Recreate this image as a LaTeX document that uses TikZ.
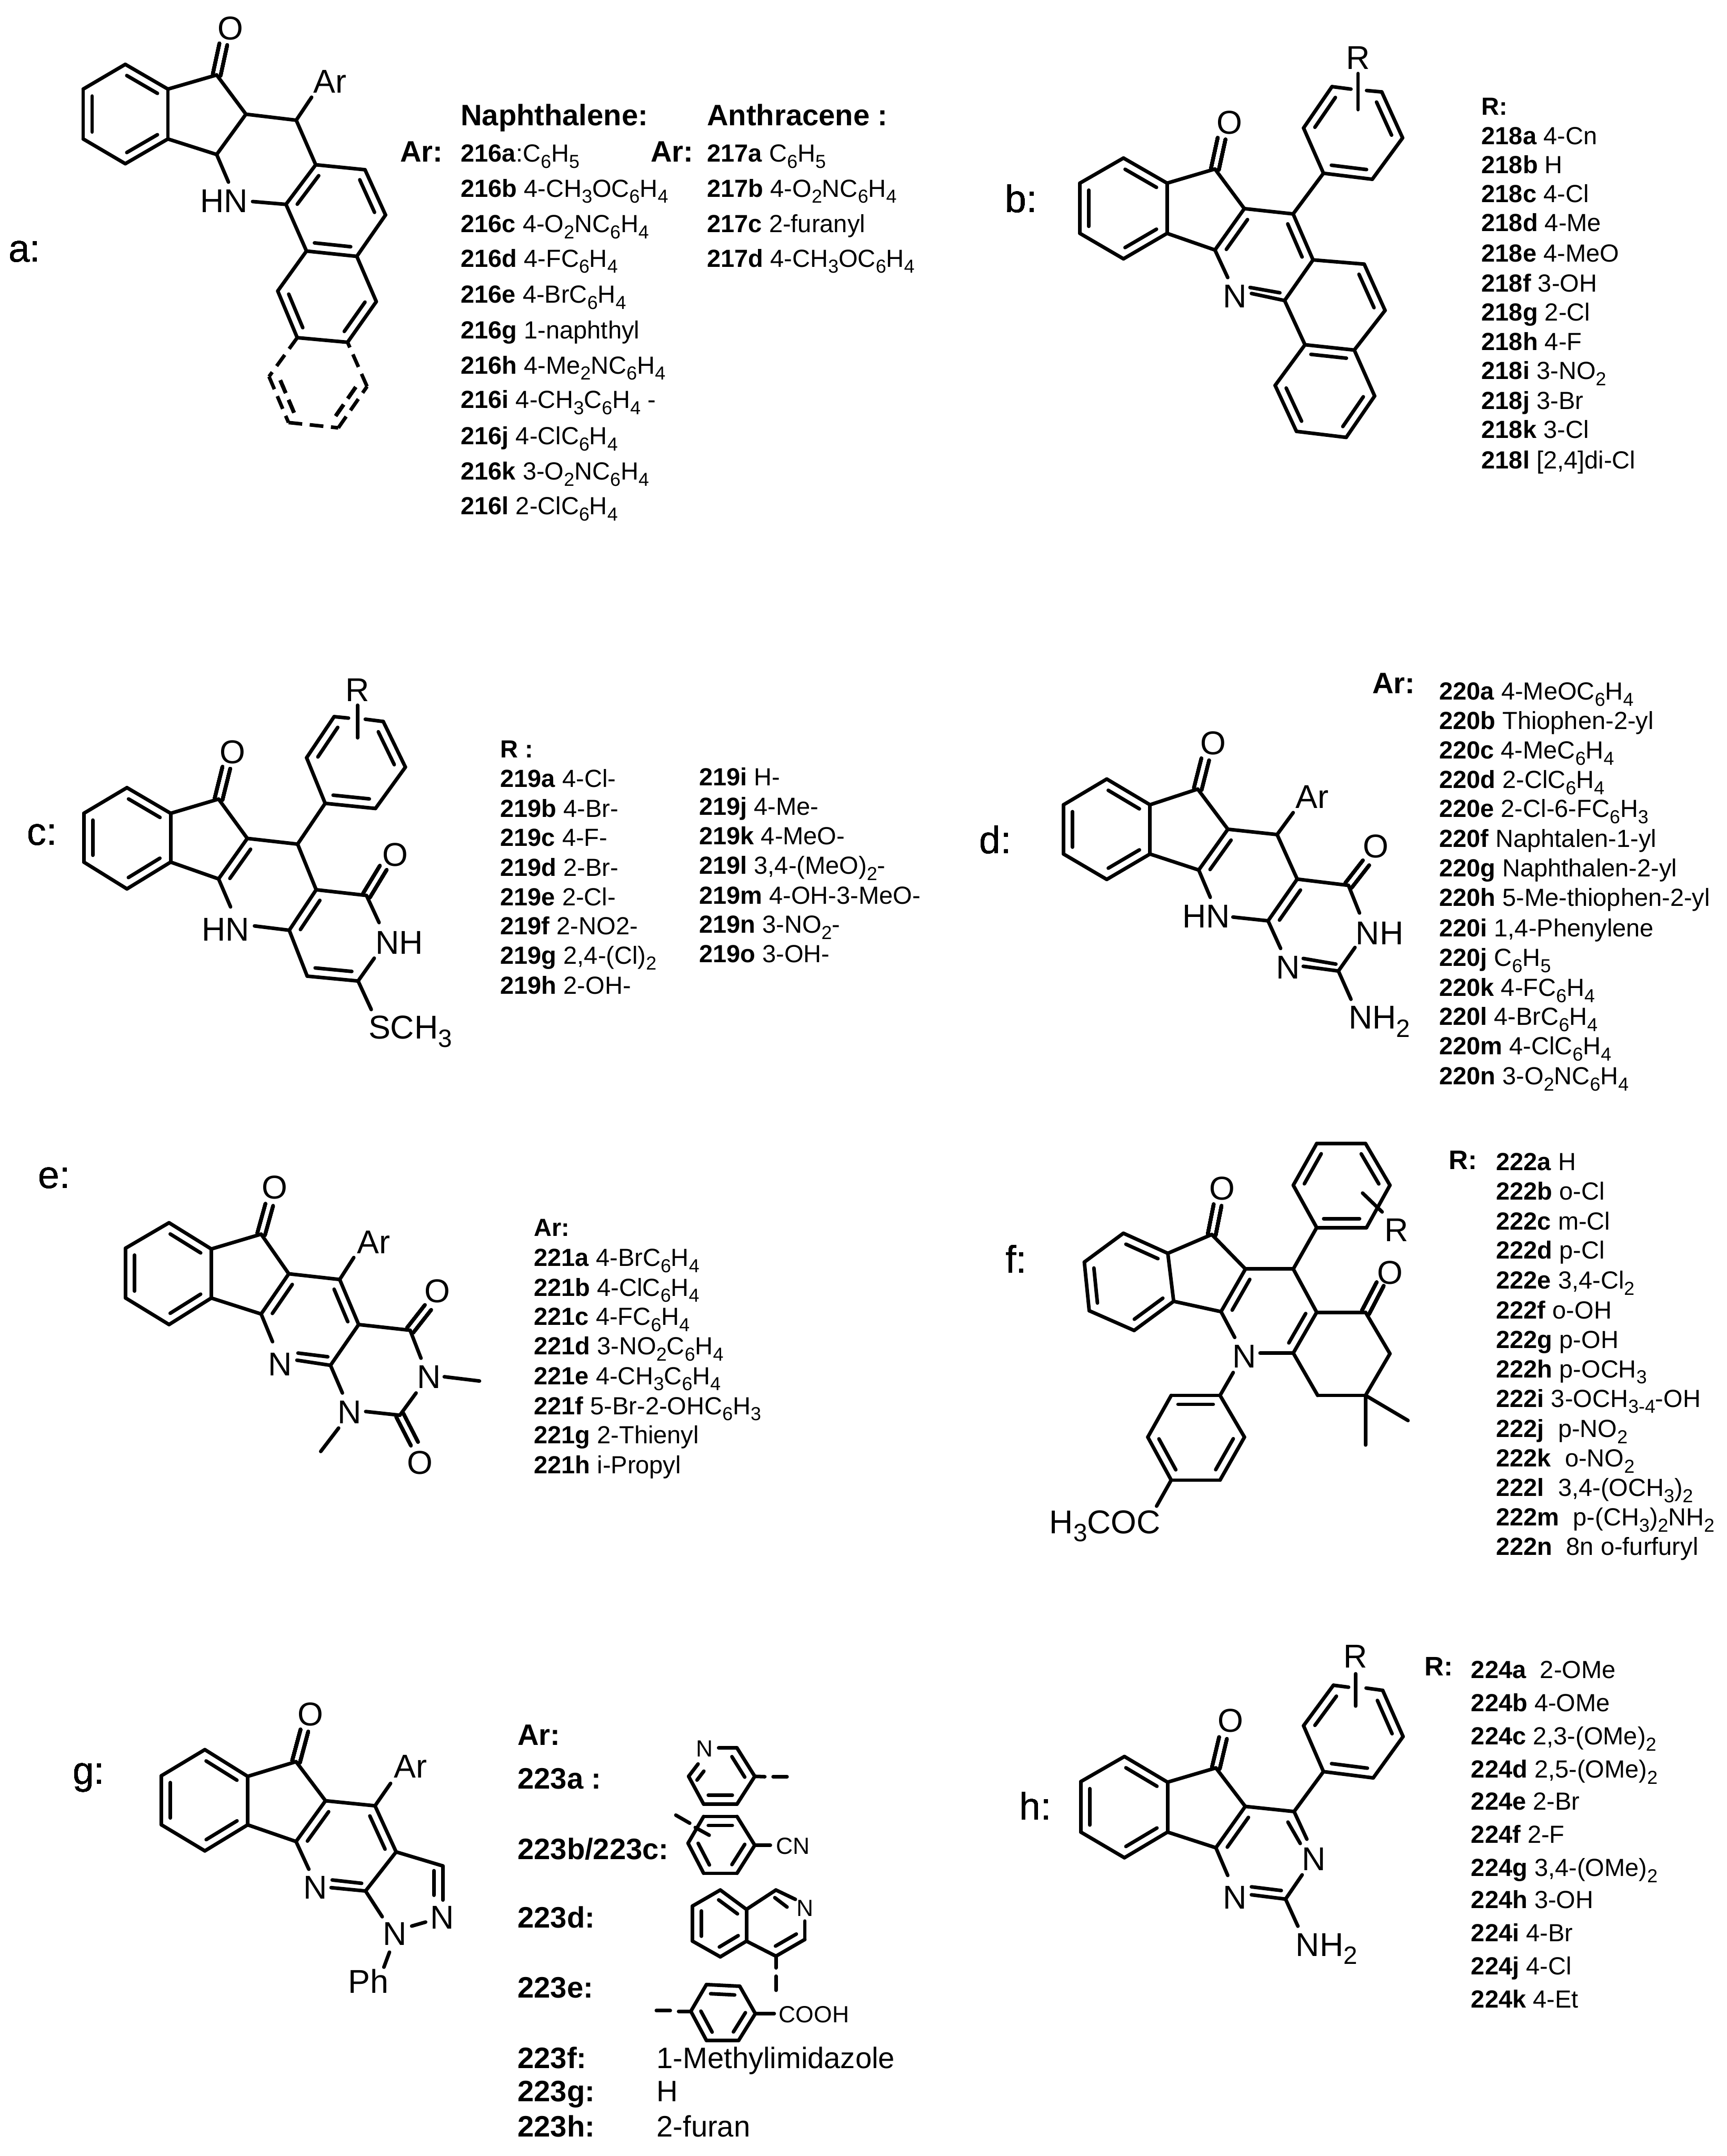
\documentclass[tikz,border=0pt]{standalone}
\usepackage{fontspec}
\setmainfont{Liberation Sans}
\usetikzlibrary{calc}
\newcommand{\sbs}[1]{\raisebox{-.25em}{\scalebox{.76}{#1}}}
\newcommand{\dblin}[3][]{\draw[bond,#1] ($(#2)!.14!(#3)!6.5pt!-90:(#3)$) -- ($(#3)!.14!(#2)!6.5pt!90:(#2)$);}
\newcommand{\dbltw}[2]{\draw[bond] ($(#1)!2.9pt!90:(#2)$) -- ($(#2)!2.9pt!-90:(#1)$); \draw[bond] ($(#1)!2.9pt!-90:(#2)$) -- ($(#2)!2.9pt!90:(#1)$);}
\tikzset{
    bond/.style={line width=2.6pt,line cap=round,line join=round},
    bonddash/.style={dash pattern=on 10pt off 5.5pt,line cap=butt},
    atom/.style={inner sep=0pt,font=\fontsize{24}{26}\selectfont},
    atomleft/.style={atom,anchor=base west},
    smallatom/.style={inner sep=0pt,font=\fontsize{17}{19}\selectfont},
    smallleft/.style={smallatom,anchor=base west},
    tag/.style={anchor=base west,inner sep=0pt,font=\fontsize{28}{30}\selectfont},
    item/.style={anchor=base west,inner sep=0pt,font=\fontsize{18}{20}\selectfont},
    biglist/.style={anchor=base west,inner sep=0pt,font=\fontsize{21.5}{24}\selectfont},
    listhead/.style={biglist,font=\fontsize{21.5}{24}\selectfont\bfseries},
    smallhead/.style={item,font=\fontsize{18}{20}\selectfont\bfseries},
}
\begin{document}
\begin{tikzpicture}
    \useasboundingbox (0pt,0pt) rectangle (1256pt,-1568.2pt);

    % panel a
    \begin{scope}[shift={(32.52pt,0pt)},x=.37335pt,y=-.25719pt]
    \foreach \n/\x/\y in {a1/157/182,a2/240/252,a3/240/393,a4/157/463,a5/75/393,a6/75/252,a7/335/212,a8/392/323,
        a9/335/437,a10/490/340,a11/520/275,a12/358/515,a13/528/466,a14/624/480,a15/664/608,a16/608/725,a17/510/710,
        a18/470/578,a19/405/570,a20/646/853,a21/590/968,a22/492/955,a23/454/823,a24/348/125,a25/437/1065,a26/475/1195,
        a27/572/1210,a28/628/1093}
        \coordinate (\n) at (\x,\y);
    \foreach \p/\q in {a1/a2,a2/a3,a3/a4,a4/a5,a5/a6,a6/a1,a2/a7,a7/a8,a8/a9,a9/a3,a8/a10,a10/a11,a10/a13,a9/a12,a19/a18,
        a13/a14,a14/a15,a15/a16,a16/a17,a17/a18,a18/a13,a16/a20,a20/a21,a21/a22,a22/a23,a23/a17}
        \draw[bond] (\p) -- (\q);
    \foreach \p/\q in {a22/a25,a25/a26,a26/a27,a27/a28,a28/a21}
        \draw[bond,bonddash] (\p) -- (\q);
    \foreach \p/\q in {a1/a2,a3/a4,a5/a6,a14/a15,a16/a17,a18/a13,a20/a21,a22/a23}
        \dblin{\p}{\q}
    \dblin[bonddash]{a26}{a25}
    \dblin[bonddash]{a28}{a27}
    \dbltw{a7}{a24}
    \node [tag] (taga) at (-71,740) {a:};
    \node [atom] (aO) at (362,80) {O};
    \node [atom] (aAr) at (556,230) {Ar};
    \node [atom] (aHN) at (349,568) {HN};
    \node [listhead] (aArA) at (692,458) {Ar:};
    \node [listhead] (aNaph) at (810,355) {Naphthalene:};
    \node [listhead] (aAnth) at (1290,355) {Anthracene :};
    \node [listhead] (aArB) at (1180,458) {Ar:};
    \node [item] (n216a) at (810,458) {\textbf{216a}:C\sbs{6}H\sbs{5}};
    \node [item] (n216b) at (810,557) {\textbf{216b} 4-CH\sbs{3}OC\sbs{6}H\sbs{4}};
    \node [item] (n216c) at (810,657) {\textbf{216c} 4-O\sbs{2}NC\sbs{6}H\sbs{4}};
    \node [item] (n216d) at (810,755) {\textbf{216d} 4-FC\sbs{6}H\sbs{4}};
    \node [item] (n216e) at (810,857) {\textbf{216e} 4-BrC\sbs{6}H\sbs{4}};
    \node [item] (n216g) at (810,958) {\textbf{216g} 1-naphthyl};
    \node [item] (n216h) at (810,1057) {\textbf{216h} 4-Me\sbs{2}NC\sbs{6}H\sbs{4}};
    \node [item] (n216i) at (810,1155) {\textbf{216i} 4-CH\sbs{3}C\sbs{6}H\sbs{4} -};
    \node [item] (n216j) at (810,1257) {\textbf{216j} 4-ClC\sbs{6}H\sbs{4}};
    \node [item] (n216k) at (810,1357) {\textbf{216k} 3-O\sbs{2}NC\sbs{6}H\sbs{4}};
    \node [item] (n216l) at (810,1455) {\textbf{216l} 2-ClC\sbs{6}H\sbs{4}};
    \node [item] (n217a) at (1290,458) {\textbf{217a} C\sbs{6}H\sbs{5}};
    \node [item] (n217b) at (1290,557) {\textbf{217b} 4-O\sbs{2}NC\sbs{6}H\sbs{4}};
    \node [item] (n217c) at (1290,657) {\textbf{217c} 2-furanyl};
    \node [item] (n217d) at (1290,755) {\textbf{217d} 4-CH\sbs{3}OC\sbs{6}H\sbs{4}};
    \end{scope}

    % panel b
    \begin{scope}[shift={(715.48pt,0pt)},x=.34471pt,y=-.25719pt]
    \foreach \n/\x/\y in {b1/295/447,b2/387/518,b3/387/660,b4/295/732,b5/203/660,b6/203/518,b7/488/478,b8/550/590,
        b9/488/707,b10/515/785,b11/653/605,b12/695/735,b13/635/850,b14/565/830,b15/678/975,b16/803/747,b17/847/878,
        b18/782/990,b19/615/1090,b20/660/1220,b21/765/1237,b22/825/1120,b23/717/490,b24/820/507,b25/884/390,b26/840/260,
        b27/808/256,b28/735/245,b29/775/252,b30/675/362,b31/790/208,b32/790/310,b33/502/392,b34/562/813,b35/625/828}
        \coordinate (\n) at (\x,\y);
    \foreach \p/\q in {b1/b2,b2/b3,b3/b4,b4/b5,b5/b6,b6/b1,b2/b7,b7/b8,b8/b9,b9/b3,b9/b10,b8/b11,b11/b12,b12/b13,b14/b13,
        b34/b35,b13/b15,b12/b16,b16/b17,b17/b18,b18/b15,b15/b19,b19/b20,b20/b21,b21/b22,b22/b18,b11/b23,b23/b24,b24/b25,
        b25/b26,b26/b27,b28/b29,b28/b30,b30/b23,b31/b32}
        \draw[bond] (\p) -- (\q);
    \foreach \p/\q in {b1/b2,b3/b4,b5/b6,b9/b8,b11/b12,b16/b17,b15/b18,b22/b21,b20/b19,b24/b23,b26/b25,b30/b28}
        \dblin{\p}{\q}
    \dbltw{b7}{b33}
    \node [tag] (tagb) at (45,600) {b:};
    \node [atom] (bO) at (519,347) {O};
    \node [atom] (bN) at (530,838) {N};
    \node [atom] (bR) at (790,163) {R};
    \node [smallhead] (bRh) at (1050,325) {R:};
    \node [item] (n218a) at (1050,408) {\textbf{218a} 4-Cn};
    \node [item] (n218b) at (1050,490) {\textbf{218b} H};
    \node [item] (n218c) at (1050,573) {\textbf{218c} 4-Cl};
    \node [item] (n218d) at (1050,655) {\textbf{218d} 4-Me};
    \node [item] (n218e) at (1050,740) {\textbf{218e} 4-MeO};
    \node [item] (n218f) at (1050,825) {\textbf{218f} 3-OH};
    \node [item] (n218g) at (1050,907) {\textbf{218g} 2-Cl};
    \node [item] (n218h) at (1050,990) {\textbf{218h} 4-F};
    \node [item] (n218i) at (1050,1073) {\textbf{218i} 3-NO\sbs{2}};
    \node [item] (n218j) at (1050,1158) {\textbf{218j} 3-Br};
    \node [item] (n218k) at (1050,1240) {\textbf{218k} 3-Cl};
    \node [item] (n218l) at (1050,1325) {\textbf{218l} [2,4]di-Cl};
    \end{scope}

    % panel c
    \begin{scope}[shift={(0pt,-455.31pt)},x=.43556pt,y=-.20741pt]
    \foreach \n/\x/\y in {c1/212/567,c2/285/657,c3/285/828,c4/212/922,c5/140/828,c6/140/657,c7/365/607,c8/413/745,
        c9/365/887,c10/385/985,c11/425/1052,c12/483/1067,c13/497/765,c14/528/925,c15/612/945,c16/633/1040,c17/625/1165,
        c18/598/1245,c19/513/1228,c20/620/1345,c21/543/622,c22/627/640,c23/677/495,c24/640/335,c25/610/327,c26/558/318,
        c27/582/323,c28/512/462,c29/597/278,c30/597/392,c31/378/497,c32/640/848}
        \coordinate (\n) at (\x,\y);
    \foreach \p/\q in {c1/c2,c2/c3,c3/c4,c4/c5,c5/c6,c6/c1,c2/c7,c7/c8,c8/c9,c9/c3,c9/c10,c11/c12,c8/c13,c13/c14,c14/c12,
        c14/c15,c15/c16,c17/c18,c18/c19,c19/c12,c18/c20,c13/c21,c21/c22,c22/c23,c23/c24,c24/c25,c26/c27,c26/c28,c28/c21,
        c29/c30}
        \draw[bond] (\p) -- (\q);
    \foreach \p/\q in {c1/c2,c3/c4,c5/c6,c9/c8,c12/c14,c18/c19,c22/c21,c24/c23,c28/c26}
        \dblin{\p}{\q}
    \dbltw{c7}{c31}
    \dbltw{c15}{c32}
    \node [tag] (tagc) at (45,768) {c:};
    \node [atom] (cOa) at (388,443) {O};
    \node [atom] (cOb) at (660,803) {O};
    \node [atom] (cHN) at (377,1065) {HN};
    \node [atom] (cNH) at (667,1110) {NH};
    \node [atom] (cR) at (597,225) {R};
    \node [atomleft] (cS) at (615,1448) {SCH\sbs{3}};
    \node [smallhead] (cRh) at (835,462) {R :};
    \node [item] (n219a) at (835,565) {\textbf{219a} 4-Cl-};
    \node [item] (n219b) at (835,670) {\textbf{219b} 4-Br-};
    \node [item] (n219c) at (835,772) {\textbf{219c} 4-F-};
    \node [item] (n219d) at (835,877) {\textbf{219d} 2-Br-};
    \node [item] (n219e) at (835,980) {\textbf{219e} 2-Cl-};
    \node [item] (n219f) at (835,1083) {\textbf{219f} 2-NO2-};
    \node [item] (n219g) at (835,1185) {\textbf{219g} 2,4-(Cl)\sbs{2}};
    \node [item] (n219h) at (835,1290) {\textbf{219h} 2-OH-};
    \node [item] (n219i) at (1167,560) {\textbf{219i} H-};
    \node [item] (n219j) at (1167,663) {\textbf{219j} 4-Me-};
    \node [item] (n219k) at (1167,767) {\textbf{219k} 4-MeO-};
    \node [item] (n219l) at (1167,870) {\textbf{219l} 3,4-(MeO)\sbs{2}-};
    \node [item] (n219m) at (1167,975) {\textbf{219m} 4-OH-3-MeO-};
    \node [item] (n219n) at (1167,1077) {\textbf{219n} 3-NO\sbs{2}-};
    \node [item] (n219o) at (1167,1180) {\textbf{219o} 3-OH-};
    \end{scope}

    % panel d
    \begin{scope}[shift={(682.96pt,-455.31pt)},x=.36546pt,y=-.22815pt]
    \foreach \n/\x/\y in {d1/334/488,d2/420/570,d3/420/727,d4/334/808,d5/248/727,d6/248/570,d7/515/520,d8/575/648,
        d9/517/778,d10/540/865,d11/585/928,d12/655/940,d13/673/665,d14/713/807,d15/705/595,d16/815/827,d17/837/915,
        d18/828/1025,d19/795/1100,d20/725/1085,d21/680/1028,d22/820/1190,d23/725/1060,d24/790/1078,d25/530/425,d26/850/755}
        \coordinate (\n) at (\x,\y);
    \foreach \p/\q in {d1/d2,d2/d3,d3/d4,d4/d5,d5/d6,d6/d1,d2/d7,d7/d8,d8/d9,d9/d3,d9/d10,d11/d12,d8/d13,d13/d14,d14/d12,
        d13/d15,d14/d16,d16/d17,d18/d19,d19/d20,d23/d24,d12/d21,d19/d22}
        \draw[bond] (\p) -- (\q);
    \foreach \p/\q in {d1/d2,d3/d4,d5/d6,d9/d8,d12/d14}
        \dblin{\p}{\q}
    \dbltw{d7}{d25}
    \dbltw{d16}{d26}
    \node [tag] (tagd) at (80,725) {d:};
    \node [atom] (dOa) at (546,373) {O};
    \node [atom] (dOb) at (870,703) {O};
    \node [atom] (dAr) at (743,545) {Ar};
    \node [atom] (dHN) at (532,925) {HN};
    \node [atom] (dNH) at (877,980) {NH};
    \node [atom] (dN) at (695,1088) {N};
    \node [atomleft] (dNHH) at (815,1285) {NH\sbs{2}};
    \node [listhead] (dArh) at (862,215) {Ar:};
    \node [item] (n220a) at (995,235) {\textbf{220a} 4-MeOC\sbs{6}H\sbs{4}};
    \node [item] (n220b) at (995,330) {\textbf{220b} Thiophen-2-yl};
    \node [item] (n220c) at (995,423) {\textbf{220c} 4-MeC\sbs{6}H\sbs{4}};
    \node [item] (n220d) at (995,517) {\textbf{220d} 2-ClC\sbs{6}H\sbs{4}};
    \node [item] (n220e) at (995,610) {\textbf{220e} 2-Cl-6-FC\sbs{6}H\sbs{3}};
    \node [item] (n220f) at (995,705) {\textbf{220f} Naphtalen-1-yl};
    \node [item] (n220g) at (995,800) {\textbf{220g} Naphthalen-2-yl};
    \node [item] (n220h) at (995,893) {\textbf{220h} 5-Me-thiophen-2-yl};
    \node [item] (n220i) at (995,990) {\textbf{220i} 1,4-Phenylene};
    \node [item] (n220j) at (995,1085) {\textbf{220j} C\sbs{6}H\sbs{5}};
    \node [item] (n220k) at (995,1180) {\textbf{220k} 4-FC\sbs{6}H\sbs{4}};
    \node [item] (n220l) at (995,1273) {\textbf{220l} 4-BrC\sbs{6}H\sbs{4}};
    \node [item] (n220m) at (995,1367) {\textbf{220m} 4-ClC\sbs{6}H\sbs{4}};
    \node [item] (n220n) at (995,1462) {\textbf{220n} 3-O\sbs{2}NC\sbs{6}H\sbs{4}};
    \end{scope}

    % panel e
    \begin{scope}[shift={(0pt,-813.05pt)},x=.39408pt,y=-.20741pt]
    \foreach \n/\x/\y in {e1/312/368,e2/390/460,e3/390/632,e4/312/725,e5/232/632,e6/232/457,e7/482/408,e8/533/547,
        e9/482/688,e10/503/785,e11/548/850,e12/610/868,e13/662/725,e14/627/567,e15/653/490,e16/757/745,e17/777/843,
        e18/820/908,e19/885/923,e20/768/965,e21/738/1043,e22/675/1030,e23/632/965,e24/625/1088,e25/592/1170,e26/550/825,
        e27/605/838,e28/497/305,e29/790/665,e30/765/1143}
        \coordinate (\n) at (\x,\y);
    \foreach \p/\q in {e1/e2,e2/e3,e3/e4,e4/e5,e5/e6,e6/e1,e2/e7,e7/e8,e8/e9,e9/e3,e9/e10,e11/e12,e26/e27,e12/e13,e8/e14,
        e14/e13,e14/e15,e13/e16,e16/e17,e18/e19,e20/e21,e21/e22,e12/e23,e24/e25}
        \draw[bond] (\p) -- (\q);
    \foreach \p/\q in {e1/e2,e3/e4,e5/e6,e9/e8,e14/e13}
        \dblin{\p}{\q}
    \dbltw{e7}{e28}
    \dbltw{e16}{e29}
    \dbltw{e21}{e30}
    \node [tag] (tage) at (70,247) {e:};
    \node [atom] (eOa) at (507,245) {O};
    \node [atom] (eOb) at (807,607) {O};
    \node [atom] (eOc) at (775,1210) {O};
    \node [atom] (eAr) at (690,437) {Ar};
    \node [atom] (eNa) at (517,865) {N};
    \node [atom] (eNb) at (792,908) {N};
    \node [atom] (eNc) at (645,1033) {N};
    \node [smallhead] (eArh) at (985,415) {Ar:};
    \node [item] (n221a) at (985,520) {\textbf{221a} 4-BrC\sbs{6}H\sbs{4}};
    \node [item] (n221b) at (985,625) {\textbf{221b} 4-ClC\sbs{6}H\sbs{4}};
    \node [item] (n221c) at (985,727) {\textbf{221c} 4-FC\sbs{6}H\sbs{4}};
    \node [item] (n221d) at (985,830) {\textbf{221d} 3-NO\sbs{2}C\sbs{6}H\sbs{4}};
    \node [item] (n221e) at (985,935) {\textbf{221e} 4-CH\sbs{3}C\sbs{6}H\sbs{4}};
    \node [item] (n221f) at (985,1040) {\textbf{221f} 5-Br-2-OHC\sbs{6}H\sbs{3}};
    \node [item] (n221g) at (985,1143) {\textbf{221g} 2-Thienyl};
    \node [item] (n221h) at (985,1248) {\textbf{221h} i-Propyl};
    \end{scope}

    % panel f
    \begin{scope}[shift={(699.22pt,-813.05pt)},x=.35509pt,y=-.22815pt]
    \foreach \n/\x/\y in {f1/332/368,f2/423/432,f3/435/585,f4/354/678,f5/262/615,f6/252/460,f7/513/372,f8/582/482,
        f9/532/618,f10/560/700,f11/612/750,f12/680/750,f13/680/482,f14/728/620,f15/828/620,f16/878/752,f17/828/885,
        f18/730/885,f19/915/965,f20/828/1043,f21/728/350,f22/830/350,f23/878/215,f24/828/82,f25/728/82,f26/680/215,
        f27/822/240,f28/862/300,f29/557/812,f30/530/885,f31/430/885,f32/382/1018,f33/430/1155,f34/530/1155,f35/580/1018,
        f36/400/1238,f37/525/278,f38/858/530}
        \coordinate (\n) at (\x,\y);
    \foreach \p/\q in {f1/f2,f2/f3,f3/f4,f4/f5,f5/f6,f6/f1,f2/f7,f7/f8,f8/f9,f9/f3,f9/f10,f11/f12,f8/f13,f13/f14,f14/f12,
        f14/f15,f15/f16,f16/f17,f17/f18,f18/f12,f17/f19,f17/f20,f13/f21,f21/f22,f22/f23,f23/f24,f24/f25,f25/f26,f26/f21,
        f27/f28,f29/f30,f30/f31,f31/f32,f32/f33,f33/f34,f34/f35,f35/f30,f33/f36}
        \draw[bond] (\p) -- (\q);
    \foreach \p/\q in {f1/f2,f3/f4,f5/f6,f9/f8,f14/f12,f22/f21,f26/f25,f24/f23,f31/f30,f35/f34,f33/f32}
        \dblin{\p}{\q}
    \dbltw{f7}{f37}
    \dbltw{f15}{f38}
    \node [tag] (tagf) at (90,495) {f:};
    \node [atom] (fOa) at (534,225) {O};
    \node [atom] (fOb) at (878,493) {O};
    \node [atom] (fN) at (580,760) {N};
    \node [atom] (fR) at (892,358) {R};
    \node [atomleft] (fCOC) at (180,1325) {H\sbs{3}COC};
    \node [biglist,font=\fontsize{19.5}{22}\selectfont\bfseries] (fRh) at (998,165) {R:};
    \node [item] (n222a) at (1095,168) {\textbf{222a} H};
    \node [item] (n222b) at (1095,262) {\textbf{222b} o-Cl};
    \node [item] (n222c) at (1095,357) {\textbf{222c} m-Cl};
    \node [item] (n222d) at (1095,450) {\textbf{222d} p-Cl};
    \node [item] (n222e) at (1095,545) {\textbf{222e} 3,4-Cl\sbs{2}};
    \node [item] (n222f) at (1095,640) {\textbf{222f} o-OH};
    \node [item] (n222g) at (1095,735) {\textbf{222g} p-OH};
    \node [item] (n222h) at (1095,828) {\textbf{222h} p-OCH\sbs{3}};
    \node [item] (n222i) at (1095,922) {\textbf{222i} 3-OCH\sbs{3-4}-OH};
    \node [item] (n222j) at (1095,1018) {\textbf{222j}\ \ p-NO\sbs{2}};
    \node [item] (n222k) at (1095,1112) {\textbf{222k}\ \ o-NO\sbs{2}};
    \node [item] (n222l) at (1095,1207) {\textbf{222l}\ \ 3,4-(OCH\sbs{3})\sbs{2}};
    \node [item] (n222m) at (1095,1300) {\textbf{222m}\ \ p-(CH\sbs{3})\sbs{2}NH\sbs{2}};
    \node [item] (n222n) at (1095,1395) {\textbf{222n}\ \ 8n o-furfuryl};
    \end{scope}

    % panel g
    \begin{scope}[shift={(32.52pt,-1187.05pt)},x=.40445pt,y=-.24308pt]
    \foreach \n/\x/\y in {g1/288/352,g2/365/432,g3/365/577,g4/288/655,g5/210/577,g6/210/430,g7/452/388,g8/505/505,
        g9/452/627,g10/475/710,g11/515/765,g12/577/775,g13/632/658,g14/594/520,g15/622/453,g16/716/700,g17/716/802,
        g18/607/852,g19/660/880,g20/685/868,g21/620/958,g22/610/1003,g23/517/742,g24/570/752,g25/467/295,
        p1/1212/347,p2/1245/347,p3/1277/432,p4/1245/515,p5/1185/515,p6/1158/432,p7/1175/395,p8/1295/433,p9/1310/433,p10/1335/433,
        q1/1185/552,q2/1245/552,q3/1277/638,q4/1245/722,q5/1185/722,q6/1157/632,q7/1305/638,q8/1135/548,q9/1160/572,q10/1170/585,q11/1195/608,
        s1/1215/772,s2/1262/830,s3/1262/925,s4/1215/972,s5/1165/925,s6/1165/820,s7/1315/772,s8/1350/800,s9/1367/865,s10/1367/920,s11/1315/970,
        s12/1315/1005,s13/1315/1030,s14/1315/1072,s15/1313/795,s16/1335/823,
        u1/1190/1055,u2/1250/1060,u3/1278/1142,u4/1248/1222,u5/1190/1222,u6/1162/1135,u7/1312/1142,u8/1125/1133,u9/1100/1133,u10/1140/1135}
        \coordinate (\n) at (\x,\y);
    \foreach \p/\q in {g1/g2,g2/g3,g3/g4,g4/g5,g5/g6,g6/g1,g2/g7,g7/g8,g8/g9,g9/g3,g9/g10,g11/g12,g23/g24,g12/g13,g8/g14,
        g14/g13,g14/g15,g13/g16,g16/g17,g12/g18,g19/g20,g21/g22,
        p1/p2,p2/p3,p3/p4,p4/p5,p5/p6,p6/p7,p3/p8,p9/p10,
        q1/q2,q2/q3,q3/q4,q4/q5,q5/q6,q6/q1,q3/q7,q8/q9,q10/q11,
        s1/s2,s2/s3,s3/s4,s4/s5,s5/s6,s6/s1,s2/s7,s7/s8,s15/s16,s9/s10,s10/s11,s11/s3,s11/s12,s13/s14,
        u1/u2,u2/u3,u3/u4,u4/u5,u5/u6,u6/u1,u3/u7,u9/u8,u10/u6}
        \draw[bond] (\p) -- (\q);
    \foreach \p/\q in {g1/g2,g3/g4,g5/g6,g9/g8,g14/g13,g16/g17,p2/p3,p4/p5,p6/p7,q1/q2,q3/q4,q5/q6,s1/s2,s3/s4,s5/s6,s10/s11,u1/u2,u3/u4,u5/u6}
        \dblin{\p}{\q}
    \dbltw{g7}{g25}
    \node [tag] (tagg) at (50,455) {g:};
    \node [atom] (gO) at (478,247) {O};
    \node [atom] (gAr) at (658,403) {Ar};
    \node [atom] (gNa) at (487,765) {N};
    \node [atom] (gNb) at (630,903) {N};
    \node [atom] (gNc) at (715,855) {N};
    \node [atom] (gPh) at (582,1045) {Ph};
    \node [smallatom] (pN) at (1187,350) {N};
    \node [smallatom] (sN) at (1367,827) {N};
    \node [smallleft] (qCN) at (1315,665) {CN};
    \node [smallleft] (uCOOH) at (1320,1168) {COOH};
    \node [listhead] (gArh) at (850,338) {Ar:};
    \node [listhead] (n223a) at (850,470) {223a :};
    \node [listhead] (n223b) at (850,680) {223b/223c:};
    \node [listhead] (n223d) at (850,885) {223d:};
    \node [listhead] (n223e) at (850,1095) {223e:};
    \node [listhead] (n223f) at (850,1305) {223f:};
    \node [listhead] (n223g) at (850,1405) {223g:};
    \node [listhead] (n223h) at (850,1510) {223h:};
    \node [biglist] (t223f) at (1100,1305) {1-Methylimidazole};
    \node [biglist] (t223g) at (1100,1405) {H};
    \node [biglist] (t223h) at (1100,1510) {2-furan};
    \end{scope}

    % panel h
    \begin{scope}[shift={(715.48pt,-1170.79pt)},x=.34471pt,y=-.20741pt]
    \foreach \n/\x/\y in {h1/297/515,h2/388/605,h3/388/780,h4/297/870,h5/205/780,h6/205/603,h7/490/555,h8/552/690,
        h9/490/835,h10/515/932,h11/565/1000,h12/637/1015,h13/672/930,h14/655/708,h15/682/805,h16/642/745,h17/668/820,
        h18/663/1110,h19/717/568,h20/822/590,h21/885/445,h22/842/283,h23/807/275,h24/738/265,h25/770/272,h26/675/407,
        h27/785/225,h28/785/338,h29/565/972,h30/628/985,h31/505/450}
        \coordinate (\n) at (\x,\y);
    \foreach \p/\q in {h1/h2,h2/h3,h3/h4,h4/h5,h5/h6,h6/h1,h2/h7,h7/h8,h8/h9,h9/h3,h9/h10,h11/h12,h29/h30,h12/h13,h8/h14,
        h14/h15,h16/h17,h12/h18,h14/h19,h19/h20,h20/h21,h21/h22,h22/h23,h24/h25,h24/h26,h26/h19,h27/h28}
        \draw[bond] (\p) -- (\q);
    \foreach \p/\q in {h1/h2,h3/h4,h5/h6,h9/h8,h20/h19,h22/h21,h26/h24}
        \dblin{\p}{\q}
    \dbltw{h7}{h31}
    \node [tag] (tagh) at (75,737) {h:};
    \node [atom] (hO) at (521,390) {O};
    \node [atom] (hNa) at (697,875) {N};
    \node [atom] (hNb) at (530,1010) {N};
    \node [atom] (hR) at (785,165) {R};
    \node [atomleft] (hNHH) at (658,1215) {NH\sbs{2}};
    \node [biglist,font=\fontsize{19.5}{22}\selectfont\bfseries] (hRh) at (930,232) {R:};
    \node [item] (n224a) at (1028,240) {\textbf{224a}\ \ 2-OMe};
    \node [item] (n224b) at (1028,358) {\textbf{224b} 4-OMe};
    \node [item] (n224c) at (1028,473) {\textbf{224c} 2,3-(OMe)\sbs{2}};
    \node [item] (n224d) at (1028,590) {\textbf{224d} 2,5-(OMe)\sbs{2}};
    \node [item] (n224e) at (1028,703) {\textbf{224e} 2-Br};
    \node [item] (n224f) at (1028,818) {\textbf{224f} 2-F};
    \node [item] (n224g) at (1028,935) {\textbf{224g} 3,4-(OMe)\sbs{2}};
    \node [item] (n224h) at (1028,1048) {\textbf{224h} 3-OH};
    \node [item] (n224i) at (1028,1163) {\textbf{224i} 4-Br};
    \node [item] (n224j) at (1028,1280) {\textbf{224j} 4-Cl};
    \node [item] (n224k) at (1028,1397) {\textbf{224k} 4-Et};
    \end{scope}
\end{tikzpicture}
\end{document}
